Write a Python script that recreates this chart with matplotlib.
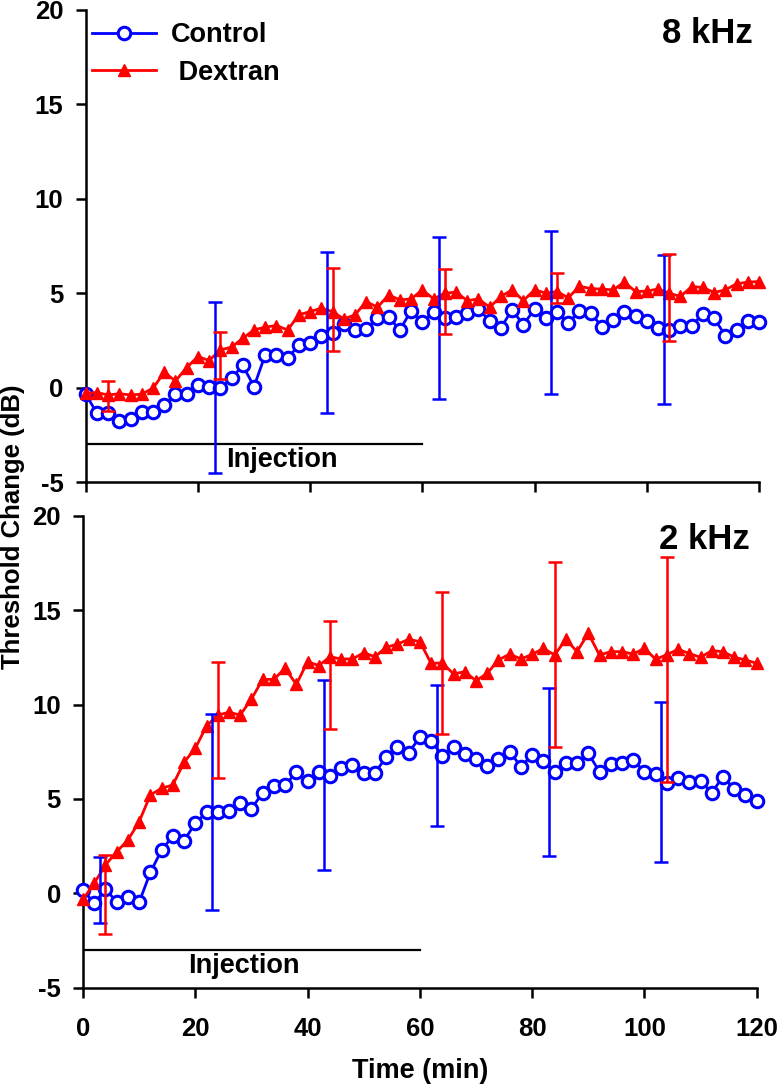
import matplotlib
matplotlib.use("Agg")
import matplotlib.pyplot as plt
from matplotlib.lines import Line2D
import numpy as np

plt.rcParams['font.family'] = ['Liberation Sans', 'DejaVu Sans']
plt.rcParams['font.weight'] = 'bold'

time_min = list(range(0, 121, 2))

ctrl_8k = [-0.35, -1.36, -1.33, -1.76, -1.66, -1.32, -1.27, -0.95, -0.33, -0.33,
           0.12, 0.03, -0.03, 0.50, 1.17, 0.05, 1.73, 1.73, 1.55, 2.26,
           2.38, 2.74, 2.88, 3.35, 3.02, 3.11, 3.67, 3.72, 3.05, 4.07,
           3.49, 3.99, 3.67, 3.76, 3.94, 4.16, 3.53, 3.17, 4.11, 3.32,
           4.16, 3.70, 3.99, 3.42, 4.04, 3.94, 3.23, 3.58, 3.99, 3.79,
           3.53, 3.14, 3.05, 3.28, 3.28, 3.90, 3.67, 2.75, 3.05, 3.53, 3.49]
dex_8k = [-0.30, -0.27, -0.39, -0.33, -0.39, -0.35, -0.03, 0.80, 0.35, 1.06,
          1.64, 1.43, 1.99, 2.14, 2.61, 3.05, 3.20, 3.28, 3.05, 3.85,
          4.02, 4.20, 4.02, 3.63, 3.85, 4.55, 4.25, 4.90, 4.64, 4.69,
          5.17, 4.69, 4.99, 5.05, 4.60, 4.69, 4.25, 4.82, 5.17, 4.60,
          5.17, 5.00, 5.08, 4.75, 5.36, 5.24, 5.21, 5.17, 5.58, 5.08,
          5.10, 5.22, 4.99, 4.82, 5.34, 5.30, 5.03, 5.17, 5.49, 5.58, 5.61]
ctrl_2k = [0.17, -0.53, 0.21, -0.44, -0.18, -0.48, 1.11, 2.29, 3.03, 2.79,
           3.71, 4.29, 4.29, 4.36, 4.77, 4.47, 5.33, 5.68, 5.74, 6.40,
           5.95, 6.44, 6.23, 6.62, 6.80, 6.39, 6.39, 7.20, 7.77, 7.45,
           8.26, 8.08, 7.29, 7.77, 7.38, 7.11, 6.76, 7.11, 7.50, 6.71,
           7.33, 7.02, 6.44, 6.92, 6.92, 7.41, 6.44, 6.83, 6.88, 7.06,
           6.44, 6.30, 5.86, 6.09, 5.91, 5.95, 5.33, 6.18, 5.51, 5.21, 4.91]
dex_2k = [-0.32, 0.53, 1.50, 2.20, 2.82, 3.79, 5.21, 5.56, 5.74, 6.94,
          7.68, 8.86, 9.44, 9.59, 9.44, 10.29, 11.33, 11.33, 11.92, 11.06,
          12.27, 12.06, 12.53, 12.41, 12.41, 12.74, 12.53, 13.03, 13.20, 13.45,
          13.33, 12.18, 12.20, 11.62, 11.74, 11.26, 11.65, 12.36, 12.67, 12.41,
          12.65, 12.98, 12.62, 13.45, 12.80, 13.77, 12.62, 12.80, 12.80, 12.67,
          12.98, 12.39, 12.64, 12.92, 12.70, 12.50, 12.85, 12.80, 12.50, 12.36, 12.18]

# error bars (position, centre, half-length)
ctrl_8k_err_x = [23, 43, 63, 83, 103]
ctrl_8k_err_y = [0.0, 2.90, 3.67, 3.97, 3.07]
ctrl_8k_err = [4.55, 4.25, 4.29, 4.32, 3.95]
dex_8k_err_x = [4, 24, 44, 64, 84, 104]
dex_8k_err_y = [-0.43, 1.70, 4.14, 4.55, 5.28, 4.77]
dex_8k_err = [0.80, 1.26, 2.18, 1.71, 0.80, 2.30]
ctrl_2k_err_x = [3, 23, 43, 63, 83, 103]
ctrl_2k_err_y = [0.19, 4.32, 6.27, 7.30, 6.43, 5.90]
ctrl_2k_err = [1.75, 5.20, 5.03, 3.73, 4.46, 4.25]
dex_2k_err_x = [4, 24, 44, 64, 84, 104]
dex_2k_err_y = [-0.07, 9.18, 11.57, 12.20, 12.63, 11.85]
dex_2k_err = [2.10, 3.09, 2.87, 3.78, 4.90, 5.94]

injection = [0, 60]
injection_level = -3
x_ticks = [0, 20, 40, 60, 80, 100, 120]
y_ticks = [-5, 0, 5, 10, 15, 20]

BLUE = '#0000ff'
RED = '#ff0000'
W, H = 779, 1086

fig = plt.figure(figsize=(W / 100, H / 100), dpi=100)
ax1 = fig.add_axes([85.7 / W, 1 - 482 / H, (759 - 85.7) / W, (482 - 9.7) / H])
ax2 = fig.add_axes([83 / W, 1 - 987.7 / H, (756.7 - 83) / W, (987.7 - 515.7) / H])

TICK_FS = 18.5
LW = 2.0

def draw(ax, ctrl, dex, cex, cey, ce, dexx, dexy, de, label, inj_x, show_xlabels):
    ax.plot(time_min, ctrl, color=BLUE, lw=LW, marker='o', ms=9, mfc='white',
            mec=BLUE, mew=2.2, clip_on=False, zorder=3)
    ax.plot(time_min, dex, color=RED, lw=LW, marker='^', ms=8.5, mfc=RED,
            mec=RED, clip_on=False, zorder=4)
    ax.errorbar(cex, cey, yerr=ce, fmt='none', ecolor=BLUE, elinewidth=1.8,
                capsize=5, capthick=1.8, zorder=5, clip_on=False)
    ax.errorbar(dexx, dexy, yerr=de, fmt='none', ecolor=RED, elinewidth=1.8,
                capsize=5, capthick=1.8, zorder=6, clip_on=False)
    ax.plot(injection, [injection_level, injection_level], color='black', lw=1.6, zorder=2)
    ax.text(inj_x, -3.85, 'Injection', ha='center', va='center', fontsize=19.5,
            fontweight='bold')
    ax.text(118.8, 18.75, label, ha='right', va='center', fontsize=25, fontweight='bold')
    ax.set_xlim(0, 120)
    ax.set_ylim(-5, 20)
    ax.set_xticks(x_ticks)
    ax.set_yticks(y_ticks)
    ax.set_yticklabels([str(v) for v in y_ticks], fontsize=TICK_FS, fontweight='bold')
    if show_xlabels:
        ax.set_xticklabels([str(v) for v in x_ticks], fontsize=TICK_FS, fontweight='bold')
    else:
        ax.set_xticklabels([])
    for s in ['top', 'right']:
        ax.spines[s].set_visible(False)
    for s in ['left', 'bottom']:
        ax.spines[s].set_linewidth(1.8)
    ax.tick_params(direction='out', length=7, width=1.8)
    ax.tick_params(axis='y', pad=9)
    ax.tick_params(axis='x', pad=14)

draw(ax1, ctrl_8k, dex_8k, ctrl_8k_err_x, ctrl_8k_err_y, ctrl_8k_err,
     dex_8k_err_x, dex_8k_err_y, dex_8k_err, '8 kHz', 35, False)
draw(ax2, ctrl_2k, dex_2k, ctrl_2k_err_x, ctrl_2k_err_y, ctrl_2k_err,
     dex_2k_err_x, dex_2k_err_y, dex_2k_err, '2 kHz', 28.7, True)

handles = [Line2D([], [], color=BLUE, lw=LW, marker='o', ms=9, mfc='white', mec=BLUE, mew=2.2),
           Line2D([], [], color=RED, lw=LW, marker='^', ms=8.5, mfc=RED, mec=RED)]
leg = ax1.legend(handles, ['Control', ' Dextran'], loc='upper left',
                 bbox_to_anchor=(92 / W, 1 - 22 / H), bbox_transform=fig.transFigure,
                 frameon=False, fontsize=19.5, handlelength=2.35, handletextpad=0.55,
                 labelspacing=0.43, borderpad=0, borderaxespad=0, numpoints=1)
for t in leg.get_texts():
    t.set_fontweight('bold')

fig.text(13 / W, 1 - 527 / H, 'Threshold Change (dB)', rotation=90, ha='center',
         va='center', fontsize=18.5, fontweight='bold')
fig.text(420 / W, 1 - 1071 / H, 'Time (min)', ha='center', va='center',
         fontsize=19.5, fontweight='bold')

fig.savefig('out.png', dpi=100)
